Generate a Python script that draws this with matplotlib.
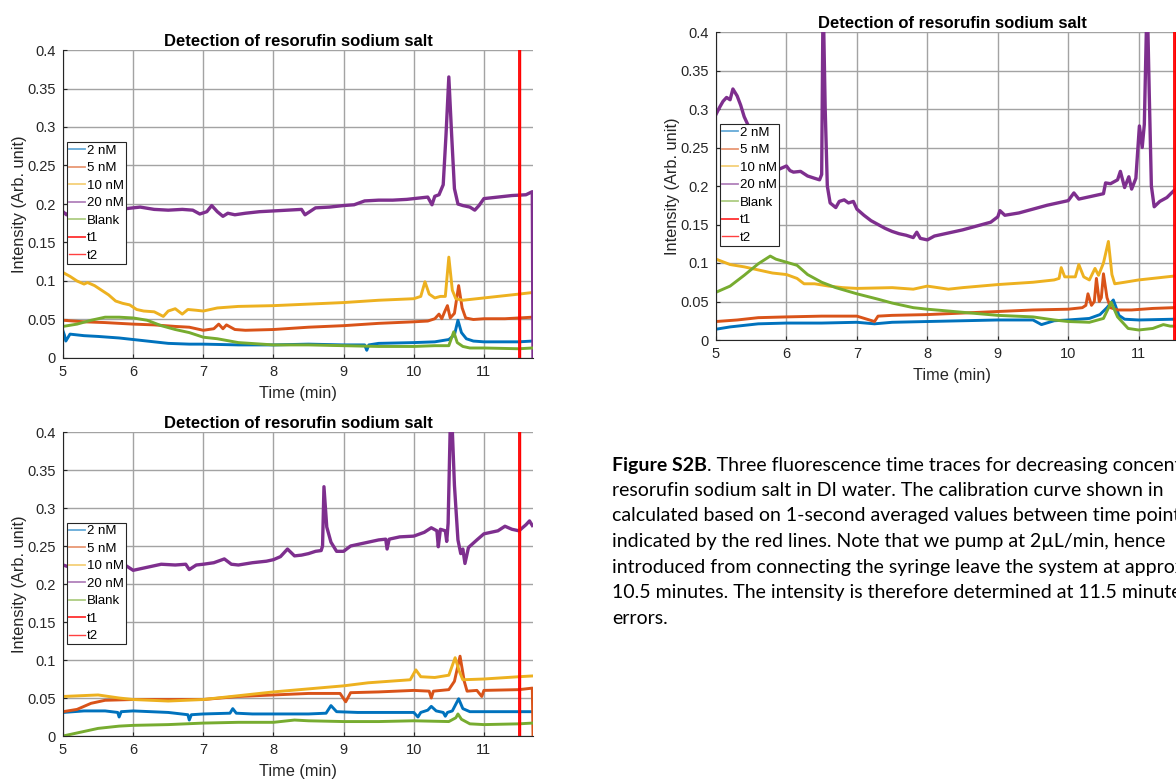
import numpy as np
import matplotlib.pyplot as plt
from matplotlib.lines import Line2D

plt.rcParams['font.family'] = ['Liberation Sans', 'DejaVu Sans']

# Colores tipo MATLAB
colors = ['#0072BD', '#D95319', '#EDB120', '#7E2F8E', '#77AC30']
labels = ['2 nM', '5 nM', '10 nM', '20 nM', 'Blank']

# tiempos de integración (t2 = t1 + 1 s)
t1 = 11.5
t2 = 11.5 + 1 / 60

# ---- panel A (arriba izquierda) ----
a_2nM_t = [5.0, 5.02, 5.04, 5.1, 5.3, 5.5, 5.8, 6.0, 6.3, 6.5, 6.8, 7.0, 7.5, 8.0, 8.5, 9.0, 9.3, 9.33,
           9.36, 9.5, 10.0, 10.3, 10.5, 10.58, 10.63, 10.68, 10.75, 10.85, 11.0, 11.3, 11.5, 11.69]
a_2nM_y = [0.035, 0.030, 0.022, 0.031, 0.029, 0.028, 0.026, 0.024, 0.021, 0.019, 0.018, 0.018, 0.017, 0.017,
           0.018, 0.017, 0.017, 0.010, 0.017, 0.019, 0.020, 0.021, 0.024, 0.030, 0.049, 0.033, 0.025, 0.022,
           0.021, 0.021, 0.021, 0.022]
a_5nM_t = [5.0, 5.3, 5.6, 6.0, 6.3, 6.6, 6.8, 7.0, 7.15, 7.22, 7.28, 7.33, 7.45, 7.6, 8.0, 8.5, 9.0, 9.5,
           10.0, 10.2, 10.3, 10.36, 10.4, 10.44, 10.48, 10.52, 10.58, 10.64, 10.69, 10.74, 10.85, 11.0, 11.3,
           11.5, 11.69]
a_5nM_y = [0.049, 0.047, 0.046, 0.044, 0.043, 0.041, 0.040, 0.036, 0.038, 0.044, 0.038, 0.043, 0.037, 0.036,
           0.037, 0.040, 0.042, 0.045, 0.047, 0.048, 0.051, 0.057, 0.051, 0.060, 0.068, 0.052, 0.058, 0.094,
           0.065, 0.052, 0.050, 0.051, 0.051, 0.052, 0.053]
a_10nM_t = [5.0, 5.1, 5.2, 5.3, 5.35, 5.45, 5.55, 5.65, 5.75, 5.85, 5.95, 6.05, 6.15, 6.3, 6.43, 6.5, 6.6,
            6.7, 6.78, 6.9, 7.0, 7.2, 7.5, 8.0, 8.5, 9.0, 9.5, 10.0, 10.1, 10.16, 10.22, 10.3, 10.38, 10.45,
            10.5, 10.55, 10.6, 10.7, 11.0, 11.3, 11.5, 11.69]
a_10nM_y = [0.111, 0.106, 0.100, 0.096, 0.098, 0.094, 0.088, 0.082, 0.074, 0.071, 0.069, 0.063, 0.061, 0.060,
            0.054, 0.061, 0.064, 0.057, 0.063, 0.062, 0.061, 0.065, 0.067, 0.068, 0.070, 0.072, 0.075, 0.077,
            0.080, 0.099, 0.083, 0.078, 0.080, 0.080, 0.131, 0.088, 0.077, 0.075, 0.078, 0.081, 0.083, 0.085]
a_20nM_t = [5.0, 5.05, 5.15, 5.3, 5.5, 5.7, 5.9, 6.1, 6.3, 6.5, 6.7, 6.85, 6.95, 7.05, 7.12, 7.2, 7.28,
            7.35, 7.45, 7.6, 7.8, 8.0, 8.2, 8.4, 8.45, 8.6, 8.8, 9.0, 9.15, 9.3, 9.5, 9.7, 9.9, 10.1, 10.2,
            10.26, 10.3, 10.36, 10.42, 10.46, 10.5, 10.54, 10.58, 10.63, 10.7, 10.8, 10.87, 10.93, 11.0,
            11.2, 11.4, 11.6, 11.69, 11.7]
a_20nM_y = [0.190, 0.186, 0.196, 0.198, 0.195, 0.197, 0.194, 0.196, 0.193, 0.192, 0.193, 0.192, 0.187, 0.190,
            0.198, 0.190, 0.184, 0.188, 0.186, 0.188, 0.190, 0.191, 0.192, 0.193, 0.186, 0.195, 0.196, 0.198,
            0.199, 0.204, 0.205, 0.205, 0.206, 0.208, 0.209, 0.199, 0.210, 0.212, 0.225, 0.290, 0.365, 0.290,
            0.220, 0.200, 0.198, 0.196, 0.192, 0.198, 0.207, 0.209, 0.211, 0.212, 0.216, 0.0]
a_blank_t = [5.0, 5.2, 5.4, 5.6, 5.8, 6.0, 6.2, 6.4, 6.6, 6.8, 7.0, 7.2, 7.5, 8.0, 8.5, 9.0, 9.5, 10.0,
             10.3, 10.5, 10.57, 10.62, 10.7, 10.8, 11.0, 11.5, 11.69]
a_blank_y = [0.041, 0.044, 0.049, 0.053, 0.053, 0.052, 0.049, 0.042, 0.037, 0.033, 0.027, 0.025, 0.020, 0.017,
             0.017, 0.016, 0.015, 0.015, 0.016, 0.016, 0.034, 0.020, 0.015, 0.013, 0.013, 0.012, 0.013]

# ---- panel B (arriba derecha) ----
b_2nM_t = [5.0, 5.2, 5.4, 5.6, 6.0, 6.5, 7.0, 7.25, 7.5, 8.0, 8.5, 9.0, 9.5, 9.62, 9.8, 10.0, 10.3, 10.45,
           10.55, 10.64, 10.72, 10.8, 11.0, 11.5, 11.7]
b_2nM_y = [0.014, 0.017, 0.019, 0.021, 0.022, 0.022, 0.023, 0.021, 0.023, 0.024, 0.025, 0.026, 0.026, 0.020,
           0.025, 0.026, 0.028, 0.033, 0.042, 0.052, 0.032, 0.027, 0.026, 0.027, 0.027]
b_5nM_t = [5.0, 5.3, 5.6, 6.0, 6.5, 7.0, 7.25, 7.3, 7.5, 8.0, 8.5, 9.0, 9.5, 10.0, 10.2, 10.25, 10.28,
           10.33, 10.37, 10.4, 10.44, 10.47, 10.5, 10.55, 10.6, 10.7, 10.9, 11.2, 11.5, 11.7]
b_5nM_y = [0.024, 0.026, 0.029, 0.030, 0.031, 0.031, 0.024, 0.031, 0.032, 0.033, 0.035, 0.037, 0.039, 0.040,
           0.042, 0.045, 0.060, 0.045, 0.050, 0.080, 0.050, 0.055, 0.086, 0.055, 0.042, 0.039, 0.039, 0.041,
           0.042, 0.043]
b_10nM_t = [5.0, 5.2, 5.4, 5.6, 5.8, 6.0, 6.15, 6.25, 6.4, 6.6, 6.8, 7.0, 7.5, 7.8, 8.0, 8.3, 8.5, 9.0,
            9.5, 9.8, 9.87, 9.9, 9.95, 10.1, 10.15, 10.22, 10.3, 10.38, 10.43, 10.5, 10.57, 10.62, 10.66,
            10.8, 11.0, 11.3, 11.5, 11.7]
b_10nM_y = [0.105, 0.098, 0.095, 0.091, 0.087, 0.085, 0.080, 0.073, 0.073, 0.070, 0.068, 0.067, 0.068, 0.066,
            0.070, 0.066, 0.068, 0.072, 0.075, 0.078, 0.080, 0.094, 0.082, 0.082, 0.098, 0.082, 0.078, 0.093,
            0.084, 0.100, 0.128, 0.085, 0.073, 0.075, 0.078, 0.081, 0.083, 0.084]
b_20nM_t = [5.0, 5.05, 5.1, 5.15, 5.2, 5.24, 5.3, 5.35, 5.4, 5.5, 5.65, 5.8, 5.9, 6.0, 6.05, 6.1, 6.2, 6.3,
            6.4, 6.47, 6.5, 6.52, 6.55, 6.58, 6.62, 6.7, 6.75, 6.82, 6.88, 6.95, 7.0, 7.1, 7.2, 7.3, 7.4,
            7.5, 7.6, 7.7, 7.8, 7.85, 7.9, 8.0, 8.1, 8.2, 8.3, 8.5, 8.7, 8.9, 9.0, 9.03, 9.1, 9.3, 9.5, 9.7,
            9.85, 10.0, 10.08, 10.15, 10.3, 10.5, 10.53, 10.6, 10.7, 10.74, 10.8, 10.86, 10.9, 10.96, 11.01,
            11.05, 11.08, 11.12, 11.15, 11.18, 11.22, 11.3, 11.4, 11.5, 11.6, 11.7]
b_20nM_y = [0.293, 0.302, 0.310, 0.315, 0.312, 0.326, 0.317, 0.305, 0.290, 0.270, 0.245, 0.228, 0.222, 0.226,
            0.220, 0.218, 0.219, 0.213, 0.210, 0.208, 0.215, 0.450, 0.300, 0.200, 0.178, 0.172, 0.180, 0.182,
            0.178, 0.180, 0.170, 0.162, 0.155, 0.150, 0.145, 0.141, 0.138, 0.136, 0.133, 0.140, 0.132, 0.130,
            0.135, 0.137, 0.139, 0.143, 0.148, 0.153, 0.160, 0.168, 0.162, 0.165, 0.170, 0.175, 0.178, 0.181,
            0.191, 0.183, 0.186, 0.190, 0.204, 0.203, 0.208, 0.219, 0.198, 0.212, 0.196, 0.210, 0.278, 0.250,
            0.280, 0.450, 0.320, 0.200, 0.173, 0.180, 0.185, 0.194, 0.198, 0.202]
b_blank_t = [5.0, 5.2, 5.4, 5.6, 5.77, 5.85, 6.0, 6.15, 6.2, 6.3, 6.5, 6.7, 7.0, 7.3, 7.5, 7.8, 8.0, 8.5,
             9.0, 9.5, 9.8, 10.0, 10.3, 10.5, 10.61, 10.7, 10.85, 11.0, 11.2, 11.35, 11.45, 11.5, 11.7]
b_blank_y = [0.062, 0.070, 0.084, 0.099, 0.109, 0.105, 0.101, 0.097, 0.093, 0.085, 0.075, 0.068, 0.060, 0.053,
             0.048, 0.042, 0.040, 0.036, 0.032, 0.030, 0.026, 0.024, 0.023, 0.028, 0.049, 0.030, 0.015, 0.013,
             0.015, 0.020, 0.018, 0.018, 0.019]

# ---- panel C (abajo izquierda) ----
c_2nM_t = [5.0, 5.3, 5.6, 5.78, 5.8, 5.83, 6.0, 6.5, 6.78, 6.8, 6.83, 7.0, 7.38, 7.42, 7.47, 7.7, 8.0, 8.5,
           8.75, 8.82, 8.9, 9.2, 9.5, 10.0, 10.06, 10.1, 10.2, 10.25, 10.32, 10.42, 10.45, 10.48, 10.55,
           10.64, 10.7, 10.8, 11.0, 11.5, 11.69]
c_2nM_y = [0.031, 0.033, 0.033, 0.031, 0.025, 0.032, 0.033, 0.031, 0.028, 0.021, 0.028, 0.029, 0.030, 0.036,
           0.030, 0.029, 0.029, 0.029, 0.030, 0.040, 0.032, 0.031, 0.031, 0.031, 0.025, 0.031, 0.034, 0.039,
           0.033, 0.031, 0.026, 0.031, 0.033, 0.049, 0.036, 0.032, 0.032, 0.032, 0.032]
c_5nM_t = [5.0, 5.2, 5.4, 5.6, 6.0, 6.5, 7.0, 7.5, 8.0, 8.5, 8.95, 9.03, 9.1, 9.5, 10.0, 10.22, 10.25, 10.28,
           10.5, 10.58, 10.66, 10.72, 10.76, 10.9, 10.97, 11.0, 11.5, 11.69, 11.7]
c_5nM_y = [0.032, 0.035, 0.043, 0.047, 0.048, 0.048, 0.048, 0.052, 0.054, 0.056, 0.056, 0.045, 0.057, 0.058,
           0.060, 0.059, 0.050, 0.059, 0.061, 0.072, 0.105, 0.072, 0.059, 0.060, 0.052, 0.060, 0.061, 0.063, 0.0]
c_10nM_t = [5.0, 5.25, 5.5, 5.8, 6.0, 6.5, 7.0, 7.5, 8.0, 8.5, 9.0, 9.35, 9.5, 9.95, 10.03, 10.1, 10.3, 10.5,
            10.59, 10.65, 10.7, 11.0, 11.5, 11.69]
c_10nM_y = [0.052, 0.053, 0.054, 0.050, 0.048, 0.046, 0.048, 0.053, 0.058, 0.062, 0.066, 0.070, 0.071, 0.074,
            0.087, 0.078, 0.077, 0.080, 0.103, 0.085, 0.074, 0.075, 0.078, 0.079]
c_20nM_t = [5.0, 5.1, 5.3, 5.5, 5.7, 5.9, 6.0, 6.2, 6.4, 6.6, 6.75, 6.8, 6.9, 7.0, 7.15, 7.3, 7.4, 7.5, 7.7,
            7.9, 8.0, 8.1, 8.2, 8.3, 8.4, 8.5, 8.6, 8.68, 8.7, 8.72, 8.76, 8.82, 8.9, 9.0, 9.1, 9.3, 9.5, 9.6,
            9.62, 9.65, 9.8, 10.0, 10.15, 10.25, 10.33, 10.35, 10.38, 10.45, 10.47, 10.49, 10.53, 10.58, 10.63,
            10.67, 10.7, 10.73, 10.78, 10.9, 11.0, 11.2, 11.3, 11.4, 11.5, 11.6, 11.65, 11.69]
c_20nM_y = [0.225, 0.222, 0.223, 0.225, 0.228, 0.224, 0.218, 0.222, 0.226, 0.225, 0.226, 0.219, 0.225, 0.226,
            0.228, 0.233, 0.226, 0.225, 0.228, 0.230, 0.232, 0.236, 0.246, 0.237, 0.238, 0.240, 0.243, 0.244,
            0.250, 0.328, 0.275, 0.255, 0.243, 0.243, 0.250, 0.254, 0.258, 0.259, 0.246, 0.259, 0.262, 0.263,
            0.268, 0.274, 0.270, 0.249, 0.272, 0.270, 0.256, 0.280, 0.450, 0.330, 0.258, 0.240, 0.246, 0.227,
            0.248, 0.258, 0.266, 0.270, 0.276, 0.272, 0.270, 0.278, 0.283, 0.277]
c_blank_t = [5.0, 5.1, 5.3, 5.5, 5.8, 6.0, 6.5, 7.0, 7.5, 8.0, 8.3, 8.5, 9.0, 9.5, 10.0, 10.5, 10.6, 10.63,
             10.68, 10.8, 11.0, 11.5, 11.69]
c_blank_y = [0.000, 0.002, 0.006, 0.010, 0.013, 0.014, 0.015, 0.017, 0.018, 0.018, 0.021, 0.020, 0.019, 0.019,
             0.020, 0.019, 0.024, 0.029, 0.022, 0.016, 0.015, 0.016, 0.017]

yticks = [0, 0.05, 0.1, 0.15, 0.2, 0.25, 0.3, 0.35, 0.4]
xticks = [5, 6, 7, 8, 9, 10, 11]


def panel(ax, series):
    for (t, y), c in zip(series, colors):
        lw = 2.4 if c == '#7E2F8E' else 2.1
        ax.plot(t, y, color=c, lw=lw, solid_joinstyle='round')
    ax.axvline(t1, color='#FF0000', lw=1.3)
    ax.axvline(t2, color='#FF0000', lw=1.0)
    ax.set_xlim(5, 11.7)
    ax.set_ylim(0, 0.4)
    ax.set_xticks(xticks)
    ax.set_yticks(yticks)
    ax.set_yticklabels(['%g' % v for v in yticks])
    ax.grid(True, color='#a3a3a3', lw=1.0)
    ax.set_axisbelow(True)
    for s in ['top', 'right']:
        ax.spines[s].set_visible(False)
    for s in ['left', 'bottom']:
        ax.spines[s].set_color('#262626')
        ax.spines[s].set_linewidth(0.8)
    ax.tick_params(direction='in', length=3, labelsize=10.5, colors='#262626', pad=5)
    ax.set_xlabel('Time (min)', fontsize=11.8, color='#262626', labelpad=5)
    ax.set_ylabel('Intensity (Arb. unit)', fontsize=11.8, color='#262626', labelpad=0)
    ax.set_title('Detection of resorufin sodium salt', fontsize=12, fontweight='bold', pad=3)
    handles = [Line2D([], [], color=c, lw=1.3, alpha=0.6) for c in colors]
    handles += [Line2D([], [], color='#FF0000', lw=1.4, alpha=0.75),
                Line2D([], [], color='#FF0000', lw=1.0, alpha=0.75)]
    leg = ax.legend(handles, labels + ['t1', 't2'], loc='upper left', bbox_to_anchor=(0.008, 0.70),
                    borderaxespad=0, fontsize=9.5, handlelength=1.2, handletextpad=0.15,
                    labelspacing=0.4, borderpad=0.15, fancybox=False, framealpha=1,
                    edgecolor='#262626')
    leg.get_frame().set_linewidth(0.8)


fig = plt.figure(figsize=(11.76, 7.8), dpi=100)
ax_a = fig.add_axes([63 / 1176, 1 - 358 / 780, 470 / 1176, 308 / 780])
ax_b = fig.add_axes([716 / 1176, 1 - 340 / 780, 472 / 1176, 308 / 780])
ax_c = fig.add_axes([63 / 1176, 1 - 736 / 780, 470 / 1176, 304 / 780])

panel(ax_a, [(a_2nM_t, a_2nM_y), (a_5nM_t, a_5nM_y), (a_10nM_t, a_10nM_y),
             (a_20nM_t, a_20nM_y), (a_blank_t, a_blank_y)])
panel(ax_b, [(b_2nM_t, b_2nM_y), (b_5nM_t, b_5nM_y), (b_10nM_t, b_10nM_y),
             (b_20nM_t, b_20nM_y), (b_blank_t, b_blank_y)])
panel(ax_c, [(c_2nM_t, c_2nM_y), (c_5nM_t, c_5nM_y), (c_10nM_t, c_10nM_y),
             (c_20nM_t, c_20nM_y), (c_blank_t, c_blank_y)])

# Texto de la figura (cortado en el borde derecho, como en el original)
caption = [
    ". Three fluorescence time traces for decreasing concentrations",
    "resorufin sodium salt in DI water. The calibration curve shown in",
    "calculated based on 1-second averaged values between time points",
    "indicated by the red lines. Note that we pump at 2\u00b5L/min, hence",
    "introduced from connecting the syringe leave the system at approximately",
    "10.5 minutes. The intensity is therefore determined at 11.5 minutes",
    "errors.",
]
x0 = 612 / 1176
fs = 14
renderer = fig.canvas.get_renderer()
for i, line in enumerate(caption):
    yc = 1 - (465 + 25.5 * i) / 780
    if i == 0:
        tb = fig.text(x0, yc, 'Figure S2B', fontsize=fs, fontweight='bold', family='Lato', va='center')
        bb = tb.get_window_extent(renderer)
        fig.text(bb.x1 / fig.bbox.width, yc, line, fontsize=fs, family='Lato', va='center')
    else:
        fig.text(x0, yc, line, fontsize=fs, family='Lato', va='center')

fig.savefig('out.png', dpi=100)
